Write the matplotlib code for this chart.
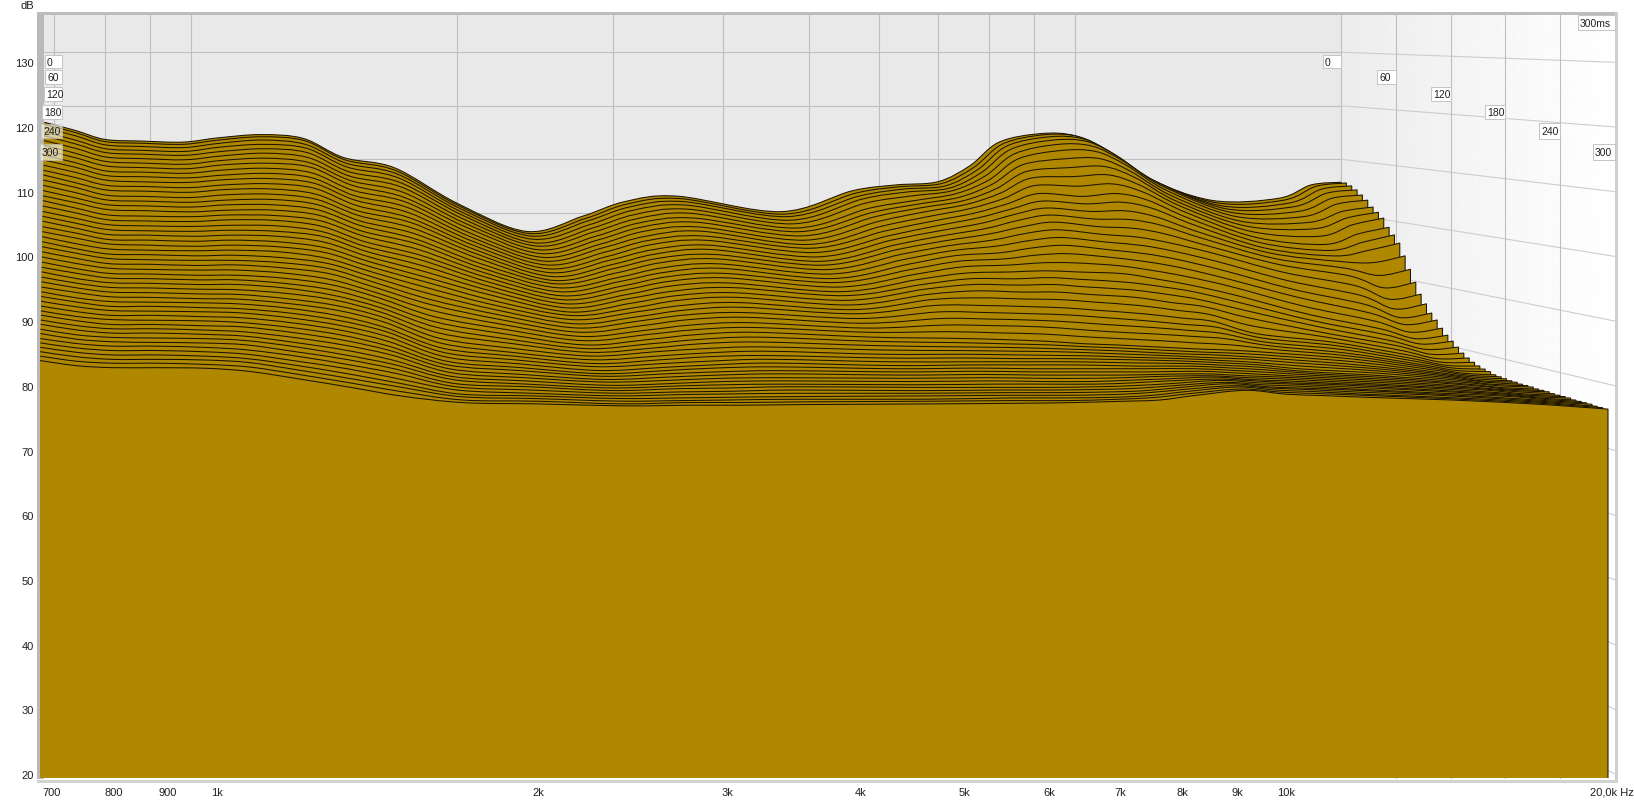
import matplotlib
matplotlib.use("Agg")
import matplotlib.pyplot as plt
import numpy as np
from matplotlib.patches import PathPatch, Rectangle
from matplotlib.path import Path
from matplotlib.ticker import NullLocator
from matplotlib.transforms import Affine2D

plt.rcParams['font.family'] = ['Liberation Sans', 'DejaVu Sans']

W, H = 1634, 803
FILL = '#B08800'
GRID = '#BEBEBE'

# level in dB against slice (0 ms at the back, 6 ms apart), one list per frequency
freqs = [683, 740, 800, 880, 980, 1075, 1200, 1340, 1490, 1700, 2000, 2400, 2780, 3100, 3550,
         4650, 5600, 6280, 7000, 7610, 8210, 9160, 10000, 10800, 12000, 14300, 17000, 18500, 20000]

at_683 = [116.9,116.6,116.1,115.4,114.8,114.0,113.3,112.5,111.7,110.9,110.1,109.3,108.6,107.8,107.0,106.2,105.4,104.7,103.9,103.1,102.4,101.7,100.9,100.2,99.5,98.8,98.1,97.4,96.7,96.0,95.3,94.7,94.0,93.4,92.7,92.1,91.5,90.9,90.3,89.7,89.2,88.6,88.1,87.5,87.0,86.4,85.9,85.4,84.9,84.4,83.9]
at_740 = [115.4,115.1,114.6,113.9,113.3,112.6,111.8,111.1,110.3,109.6,108.8,108.0,107.2,106.5,105.7,104.9,104.2,103.4,102.7,101.9,101.2,100.5,99.8,99.1,98.3,97.6,97.0,96.3,95.6,94.9,94.3,93.6,93.0,92.4,91.8,91.1,90.6,90.0,89.4,88.8,88.3,87.7,87.2,86.6,86.1,85.6,85.1,84.6,84.1,83.6,83.1]
at_800 = [113.7,113.4,112.9,112.3,111.7,111.0,110.3,109.6,108.8,108.1,107.4,106.6,105.9,105.1,104.4,103.7,103.0,102.2,101.5,100.8,100.1,99.4,98.7,98.1,97.4,96.7,96.1,95.4,94.8,94.1,93.5,92.9,92.3,91.7,91.1,90.5,89.9,89.4,88.8,88.3,87.7,87.2,86.7,86.2,85.7,85.2,84.7,84.2,83.7,83.3,82.8]
at_880 = [113.4,113.1,112.6,112.0,111.4,110.7,110.0,109.3,108.6,107.9,107.1,106.4,105.7,104.9,104.2,103.5,102.8,102.0,101.3,100.6,99.9,99.3,98.6,97.9,97.2,96.6,95.9,95.3,94.6,94.0,93.4,92.8,92.2,91.6,91.0,90.4,89.9,89.3,88.8,88.2,87.7,87.2,86.7,86.1,85.6,85.2,84.7,84.2,83.7,83.3,82.8]
at_980 = [113.2,112.9,112.4,111.8,111.2,110.5,109.8,109.1,108.4,107.7,107.0,106.2,105.5,104.7,104.0,103.3,102.6,101.9,101.2,100.5,99.8,99.1,98.4,97.7,97.1,96.4,95.8,95.1,94.5,93.8,93.2,92.6,92.0,91.4,90.8,90.3,89.7,89.2,88.6,88.1,87.5,87.0,86.5,86.0,85.5,85.0,84.5,84.0,83.6,83.1,82.7]
at_1075 = [114.0,113.7,113.2,112.6,111.9,111.2,110.5,109.8,109.0,108.2,107.5,106.7,106.0,105.2,104.4,103.7,102.9,102.2,101.5,100.7,100.0,99.3,98.6,97.9,97.2,96.5,95.8,95.2,94.5,93.8,93.2,92.6,91.9,91.3,90.7,90.1,89.5,89.0,88.4,87.8,87.3,86.7,86.2,85.7,85.2,84.6,84.1,83.6,83.2,82.7,82.2]
at_1200 = [114.6,114.3,113.8,113.1,112.4,111.7,110.9,110.1,109.3,108.5,107.7,106.9,106.1,105.3,104.5,103.7,102.9,102.1,101.4,100.6,99.8,99.1,98.3,97.6,96.9,96.1,95.4,94.7,94.0,93.3,92.6,92.0,91.3,90.6,90.0,89.4,88.8,88.2,87.6,87.0,86.4,85.8,85.2,84.7,84.1,83.6,83.0,82.5,82.0,81.5,81.0]
at_1340 = [113.9,113.6,113.0,112.4,111.7,110.9,110.1,109.4,108.5,107.7,106.9,106.1,105.2,104.4,103.6,102.8,102.0,101.2,100.4,99.6,98.9,98.1,97.3,96.6,95.8,95.1,94.4,93.7,92.9,92.2,91.5,90.8,90.2,89.5,88.9,88.2,87.6,87.0,86.4,85.8,85.2,84.6,84.0,83.4,82.9,82.3,81.8,81.2,80.7,80.2,79.7]
at_1490 = [110.3,110.0,109.5,108.9,108.2,107.5,106.8,106.1,105.3,104.5,103.8,103.0,102.2,101.5,100.7,100.0,99.2,98.5,97.7,97.0,96.3,95.6,94.9,94.2,93.5,92.8,92.1,91.4,90.7,90.1,89.4,88.8,88.2,87.6,87.0,86.3,85.8,85.2,84.6,84.0,83.5,83.0,82.4,81.9,81.4,80.9,80.3,79.8,79.4,78.9,78.4]
at_1700 = [108.4,108.0,107.5,106.9,106.2,105.5,104.7,103.9,103.2,102.4,101.6,100.8,100.1,99.3,98.5,97.7,97.0,96.2,95.4,94.7,93.9,93.1,92.3,91.6,90.8,90.0,89.2,88.5,87.7,86.9,86.2,85.5,84.8,84.1,83.5,82.9,82.4,81.9,81.4,81.0,80.6,80.2,79.8,79.5,79.1,78.8,78.5,78.1,77.9,77.6,77.4]
at_2000 = [101.8,101.5,101.1,100.6,100.1,99.5,98.9,98.3,97.6,97.0,96.4,95.8,95.2,94.6,94.0,93.3,92.7,92.1,91.5,90.9,90.3,89.7,89.1,88.4,87.8,87.2,86.6,86.0,85.4,84.8,84.2,83.6,83.1,82.5,82.0,81.6,81.2,80.8,80.4,80.1,79.7,79.4,79.1,78.8,78.6,78.3,78.0,77.8,77.6,77.4,77.2]
at_2400 = [96.5,96.3,96.0,95.6,95.1,94.7,94.2,93.7,93.2,92.7,92.2,91.7,91.2,90.7,90.2,89.8,89.3,88.8,88.3,87.8,87.3,86.8,86.3,85.9,85.4,84.9,84.4,83.9,83.4,82.9,82.4,82.0,81.6,81.2,80.8,80.4,80.1,79.7,79.4,79.2,78.9,78.7,78.4,78.2,78.0,77.8,77.6,77.4,77.2,77.0,76.9]
at_2780 = [99.4,99.1,98.8,98.3,97.8,97.3,96.7,96.2,95.6,95.1,94.5,93.9,93.4,92.8,92.3,91.7,91.1,90.6,90.0,89.5,88.9,88.4,87.8,87.2,86.7,86.1,85.6,85.0,84.4,83.9,83.3,82.8,82.3,81.9,81.4,81.0,80.6,80.2,79.9,79.6,79.3,79.0,78.7,78.5,78.3,78.0,77.8,77.5,77.3,77.2,77.0]
at_3100 = [102.1,101.8,101.4,100.9,100.3,99.7,99.1,98.5,97.9,97.2,96.6,96.0,95.3,94.7,94.1,93.5,92.8,92.2,91.6,91.0,90.4,89.7,89.1,88.5,87.8,87.2,86.6,86.0,85.3,84.7,84.1,83.5,83.0,82.4,81.9,81.5,81.0,80.6,80.3,79.9,79.6,79.3,79.0,78.7,78.4,78.1,77.9,77.6,77.4,77.2,77.0]
at_3550 = [103.1,102.8,102.4,101.9,101.3,100.7,100.0,99.4,98.7,98.1,97.4,96.8,96.1,95.5,94.8,94.2,93.5,92.9,92.2,91.6,90.9,90.3,89.6,89.0,88.3,87.7,87.0,86.4,85.7,85.1,84.5,83.9,83.3,82.7,82.2,81.7,81.3,80.9,80.5,80.1,79.8,79.4,79.1,78.8,78.6,78.3,78.0,77.7,77.5,77.3,77.1]
at_4650 = [100.2,99.9,99.6,99.1,98.6,98.0,97.5,96.9,96.3,95.7,95.2,94.6,94.0,93.4,92.9,92.3,91.7,91.1,90.6,90.0,89.4,88.9,88.3,87.7,87.1,86.6,86.0,85.4,84.8,84.3,83.7,83.2,82.7,82.2,81.7,81.3,80.9,80.5,80.2,79.9,79.6,79.3,79.0,78.7,78.5,78.2,78.0,77.8,77.5,77.4,77.2]
at_5600 = [104.1,103.8,103.4,103.0,102.4,101.6,101.0,100.4,99.7,99.0,98.3,97.6,97.0,96.3,95.7,95.0,94.3,93.6,92.9,92.2,91.5,90.8,90.2,89.5,88.8,88.0,87.1,86.2,85.3,84.4,83.5,83.0,82.5,82.1,81.7,81.3,80.9,80.6,80.3,80.0,79.7,79.4,79.1,78.8,78.5,78.3,78.1,77.9,77.7,77.5,77.3]
at_6280 = [105.2,105.0,104.7,104.3,103.7,103.0,102.5,102.0,101.4,100.7,100.0,99.3,98.6,97.9,97.2,96.5,95.8,95.1,94.3,93.5,92.6,91.8,91.0,90.1,89.1,88.0,87.0,86.1,85.2,84.2,83.3,82.8,82.4,82.0,81.6,81.2,80.9,80.6,80.2,79.9,79.6,79.3,79.0,78.8,78.5,78.3,78.1,77.9,77.7,77.5,77.4]
at_7000 = [105.8,105.6,105.3,105.0,104.7,104.3,103.8,103.3,102.8,102.2,101.5,100.8,100.0,99.2,98.4,97.5,96.6,95.6,94.7,93.8,92.8,91.8,90.9,89.9,88.9,87.8,86.8,85.9,85.0,84.0,83.0,82.6,82.2,81.9,81.5,81.2,80.9,80.6,80.2,79.9,79.6,79.3,79.0,78.8,78.6,78.4,78.2,78.0,77.8,77.7,77.6]
at_7610 = [108.8,108.6,108.3,107.9,107.4,106.8,106.2,105.5,104.8,104.0,103.2,102.4,101.6,100.7,99.7,98.7,97.6,96.5,95.4,94.2,93.0,92.0,91.0,89.9,88.8,87.6,86.6,85.6,84.6,83.6,82.6,82.3,82.0,81.7,81.4,81.1,80.8,80.5,80.2,79.9,79.6,79.4,79.2,79.0,78.8,78.6,78.4,78.3,78.1,78.0,77.8]
at_8210 = [113.2,113.0,112.7,112.2,111.5,110.7,109.7,108.6,107.5,106.3,105.0,103.8,102.7,101.6,100.5,99.3,98.1,96.9,95.6,94.2,92.8,91.7,90.6,89.5,88.4,87.2,86.2,85.2,84.2,83.3,82.4,82.1,81.8,81.5,81.2,81.0,80.7,80.4,80.2,79.9,79.7,79.6,79.4,79.3,79.1,79.0,78.9,78.8,78.7,78.6,78.5]
at_9160 = [114.8,114.7,114.4,113.9,113.2,112.2,110.8,109.3,107.8,106.2,104.5,103.3,102.1,100.9,99.7,98.5,97.3,96.1,94.9,93.7,92.5,91.2,90.1,89.0,87.8,86.6,85.6,84.7,83.8,82.9,82.0,81.7,81.4,81.2,81.0,80.8,80.6,80.4,80.2,80.0,79.8,79.7,79.7,79.6,79.6,79.5,79.5,79.4,79.4,79.3,79.3]
at_10000 = [114.4,114.3,114.0,113.6,112.9,112.0,110.8,109.5,108.1,106.6,105.0,103.6,102.2,100.8,99.4,98.0,96.7,95.4,94.1,92.8,91.5,90.4,89.3,88.1,87.0,85.9,85.0,84.2,83.4,82.5,81.7,81.4,81.2,80.9,80.7,80.5,80.3,80.1,79.9,79.7,79.5,79.4,79.3,79.3,79.2,79.1,79.0,79.0,78.9,78.8,78.7]
at_10800 = [111.7,111.6,111.3,110.9,110.3,109.5,108.5,107.5,106.3,105.1,103.8,102.5,101.1,99.8,98.4,97.0,95.7,94.4,93.1,91.8,90.5,89.5,88.4,87.4,86.3,85.3,84.5,83.7,83.0,82.2,81.5,81.2,80.9,80.7,80.4,80.2,80.0,79.8,79.6,79.4,79.3,79.2,79.1,79.0,79.0,78.9,78.8,78.8,78.7,78.6,78.5]
at_12000 = [106.6,106.5,106.3,106.0,105.5,104.8,104.0,103.2,102.4,101.5,100.5,99.5,98.4,97.4,96.3,95.2,93.9,92.6,91.3,90.1,88.8,87.7,86.6,85.5,84.3,83.2,82.7,82.2,81.8,81.4,81.0,80.7,80.4,80.1,79.8,79.5,79.3,79.2,79.1,79.0,78.9,78.8,78.7,78.7,78.6,78.5,78.5,78.4,78.3,78.3,78.2]
at_14300 = [102.3,102.0,101.6,101.2,100.7,100.1,99.4,98.7,97.9,97.0,96.2,95.4,94.7,93.9,93.0,91.8,90.5,89.2,88.0,86.7,85.5,84.6,83.8,83.0,82.4,81.8,81.4,81.0,80.6,80.3,80.0,79.7,79.4,79.2,79.0,78.8,78.6,78.5,78.4,78.3,78.2,78.1,78.1,78.0,78.0,77.9,77.9,77.9,77.8,77.8,77.8]
at_17000 = [102.7,102.5,102.1,101.6,100.9,100.1,99.2,98.2,97.0,95.7,94.8,94.0,93.2,92.2,91.0,89.5,88.0,86.6,85.3,84.1,83.0,82.2,81.4,80.8,80.2,79.7,79.3,79.0,78.7,78.5,78.3,78.1,78.0,77.9,77.8,77.7,77.6,77.5,77.5,77.4,77.4,77.4,77.3,77.3,77.3,77.3,77.2,77.2,77.2,77.2,77.2]
at_18500 = [105.2,105.1,104.7,104.1,103.3,102.4,101.2,100.2,99.1,97.6,96.3,95.0,93.0,90.9,88.9,87.1,85.6,84.3,83.3,82.2,81.3,80.6,79.9,79.3,78.8,78.4,78.1,77.9,77.7,77.5,77.4,77.3,77.2,77.1,77.1,77.0,77.0,76.9,76.9,76.9,76.9,76.8,76.8,76.8,76.8,76.8,76.8,76.8,76.8,76.8,76.8]
at_20000 = [105.7,105.7,105.3,104.7,103.9,103.1,102.0,101.2,100.3,98.8,97.6,96.3,94.2,92.0,89.9,88.0,86.5,85.1,84.1,82.9,81.9,81.1,80.3,79.5,78.9,78.4,78.0,77.7,77.5,77.2,77.1,77.0,76.9,76.9,76.8,76.8,76.8,76.7,76.7,76.7,76.6,76.6,76.6,76.6,76.5,76.5,76.5,76.5,76.4,76.4,76.4]

levels = np.column_stack([
    at_683, at_740, at_800, at_880, at_980, at_1075, at_1200, at_1340, at_1490, at_1700,
    at_2000, at_2400, at_2780, at_3100, at_3550, at_4650, at_5600, at_6280, at_7000, at_7610,
    at_8210, at_9160, at_10000, at_10800, at_12000, at_14300, at_17000, at_18500, at_20000,
])

freq_ticks = [700, 800, 900, 1000, 2000, 3000, 4000, 5000, 6000, 7000, 8000, 9000, 10000]
freq_labels = ['700', '800', '900', '1k', '2k', '3k', '4k', '5k', '6k', '7k', '8k', '9k', '10k']
db_ticks = [20, 30, 40, 50, 60, 70, 80, 90, 100, 110, 120, 130]
wall_times = [60, 120, 180, 240]

# time labels: text, left edge, top, right edge, bottom, opacity
left_boxes = [('0', 45, 56, 62, 69, 1), ('60', 45, 71, 62, 85, 1), ('120', 44, 88, 62, 102, 1),
              ('180', 42, 106, 62, 120, 1), ('240', 41, 125, 62, 139, 0.6), ('300', 40, 145, 62, 161, 0.6)]
right_boxes = [('0', 1323, 56, 1341, 69, 1), ('60', 1377, 71, 1396, 85, 1), ('120', 1431, 88, 1451, 102, 1),
               ('180', 1485, 106, 1505, 120, 1), ('240', 1539, 124, 1560, 140, 1), ('300', 1593, 145, 1615, 161, 1),
               ('300ms', 1578, 16, 1615, 31, 1)]

BACK_SCALE = 0.827
VANISH_X, VANISH_Y = 65, 5
AX_LEFT, AX_RIGHT, AX_TOP, AX_BOTTOM = 40, 1608, 16, 779


def depth_scale(index, count):
    return BACK_SCALE + (1 - BACK_SCALE) * index / (count - 1)


def project(ax, freq, level, scale):
    # front plane position from the axes, then pulled towards the vanishing point
    pts = ax.transData.transform(np.column_stack([freq, level]))
    x = VANISH_X + scale * (pts[:, 0] - VANISH_X)
    y = VANISH_Y + scale * (H - pts[:, 1] - VANISH_Y)
    return x, y


def top_curve(x, y):
    # bezier segments through the read values
    verts = [(x[0], y[0])]
    n = len(x)
    for i in range(n - 1):
        p0 = (x[max(i - 1, 0)], y[max(i - 1, 0)])
        p1 = (x[i], y[i])
        p2 = (x[i + 1], y[i + 1])
        p3 = (x[min(i + 2, n - 1)], y[min(i + 2, n - 1)])
        verts.append((p1[0] + (p2[0] - p0[0]) / 6, p1[1] + (p2[1] - p0[1]) / 6))
        verts.append((p2[0] - (p3[0] - p1[0]) / 6, p2[1] - (p3[1] - p1[1]) / 6))
        verts.append(p2)
    return verts


fig = plt.figure(figsize=(W / 100, H / 100), dpi=100, facecolor='white')

# right wall brightens towards the viewer
wall_ax = fig.add_axes([1341 / W, (H - AX_BOTTOM) / H, (1615 - 1341) / W, (AX_BOTTOM - AX_TOP) / H], zorder=0)
wall_ax.imshow(np.linspace(0.925, 1.0, 256).reshape(1, -1), cmap='gray', vmin=0, vmax=1, aspect='auto')
wall_ax.axis('off')

ax = fig.add_axes([AX_LEFT / W, (H - AX_BOTTOM) / H, (AX_RIGHT - AX_LEFT) / W, (AX_BOTTOM - AX_TOP) / H], zorder=1)
ax.patch.set_visible(False)
ax.set_xscale('log')
ax.set_xlim(freqs[0], freqs[-1])
ax.set_ylim(20 - 4 / 6.47, 20 + 759 / 6.47)
ax.set_xticks(freq_ticks, freq_labels)
ax.xaxis.set_minor_locator(NullLocator())
ax.set_yticks(db_ticks)
ax.tick_params(axis='x', length=0, pad=6.5, labelsize=8, labelcolor='#202020')
ax.tick_params(axis='y', length=0, pad=4.3, labelsize=8, labelcolor='#202020')
for spine in ax.spines.values():
    spine.set_visible(False)

to_px = Affine2D().scale(1, -1).translate(0, H)


def px_rect(x0, y0, x1, y1, zorder=1, **kwargs):
    ax.add_patch(Rectangle((x0, y0), x1 - x0, y1 - y0, transform=to_px, clip_on=False, zorder=zorder, **kwargs))


def px_line(xs, ys, **kwargs):
    ax.plot(xs, ys, transform=to_px, clip_on=False, scalex=False, scaley=False, **kwargs)


# back wall and frame
px_rect(44, AX_TOP, 1341, AX_BOTTOM, facecolor='#E9E9E9', edgecolor='none')
px_rect(37, 14, 44, 780, zorder=1.1, facecolor='#B9B9B9', edgecolor='none')
px_rect(37, 13, 1618, 16, zorder=1.1, facecolor='#BDBDBD', edgecolor='none')
px_rect(1615, 13, 1618, 783, zorder=1.1, facecolor='#CFCFCF', edgecolor='none')
px_rect(37, 781, 1618, 784, zorder=1.1, facecolor='#D2D2D2', edgecolor='none')

# grid on the back wall
for tick in freq_ticks:
    x, _ = project(ax, [tick], [20], BACK_SCALE)
    px_line([x[0], x[0]], [AX_TOP, 700], color=GRID, lw=0.8, zorder=1.3)
px_line([1341, 1341], [AX_TOP, 700], color=GRID, lw=0.8, zorder=1.3)
for level in db_ticks:
    _, y = project(ax, [20000], [level], BACK_SCALE)
    _, y_front = project(ax, [20000], [level], 1)
    px_line([44, 1341], [y[0], y[0]], color=GRID, lw=0.8, zorder=1.3)
    px_line([1341, 1615], [y[0], y_front[0]], color='#CDCDCD', lw=0.8, zorder=1.3)
for t in wall_times:
    x_wall = 1341 + (1615 - 1341) * t / 300
    px_line([x_wall, x_wall], [AX_TOP, AX_BOTTOM], color=GRID, lw=0.8, zorder=1.3)

# slices, back to front so each hides the bottom of the last one
n_slices = levels.shape[0]
for i in range(n_slices):
    scale = depth_scale(i, n_slices)
    x, y = project(ax, freqs, levels[i], scale)
    base = 779 if i == n_slices - 1 else VANISH_Y + scale * (779 - VANISH_Y)
    top = top_curve(x, y)
    n_top = len(top)
    fill_verts = top + [(x[-1], base), (x[0], base), (x[0], y[0])]
    fill_codes = [Path.MOVETO] + [Path.CURVE4] * (n_top - 1) + [Path.LINETO, Path.LINETO, Path.CLOSEPOLY]
    ax.add_patch(PathPatch(Path(fill_verts, fill_codes), transform=to_px, facecolor=FILL,
                           edgecolor='none', clip_on=False, zorder=2 + i * 0.01))
    edge_verts = top + [(x[-1], base)]
    edge_codes = [Path.MOVETO] + [Path.CURVE4] * (n_top - 1) + [Path.LINETO]
    ax.add_patch(PathPatch(Path(edge_verts, edge_codes), transform=to_px, facecolor='none',
                           edgecolor='#1A1300', lw=0.75, clip_on=False, zorder=2 + i * 0.01 + 0.005))

# time labels over everything
for text, x0, y0, x1, y1, opacity in left_boxes + right_boxes:
    px_rect(x0, y0, x1, y1, zorder=4, facecolor='white', edgecolor='#C4C4C4', lw=0.7, alpha=opacity)
    ax.text(x0 + 2, (y0 + y1) / 2 + 0.5, text, transform=to_px, fontsize=7.5, color='#202020',
            ha='left', va='center', clip_on=False, zorder=5)

ax.text(34, 6, 'dB', transform=to_px, fontsize=8, color='#202020', ha='right', va='center', clip_on=False)
ax.text(1590, 793, '20,0k Hz', transform=to_px, fontsize=8, color='#202020', ha='left', va='center', clip_on=False)

fig.savefig('out.png', dpi=100)
